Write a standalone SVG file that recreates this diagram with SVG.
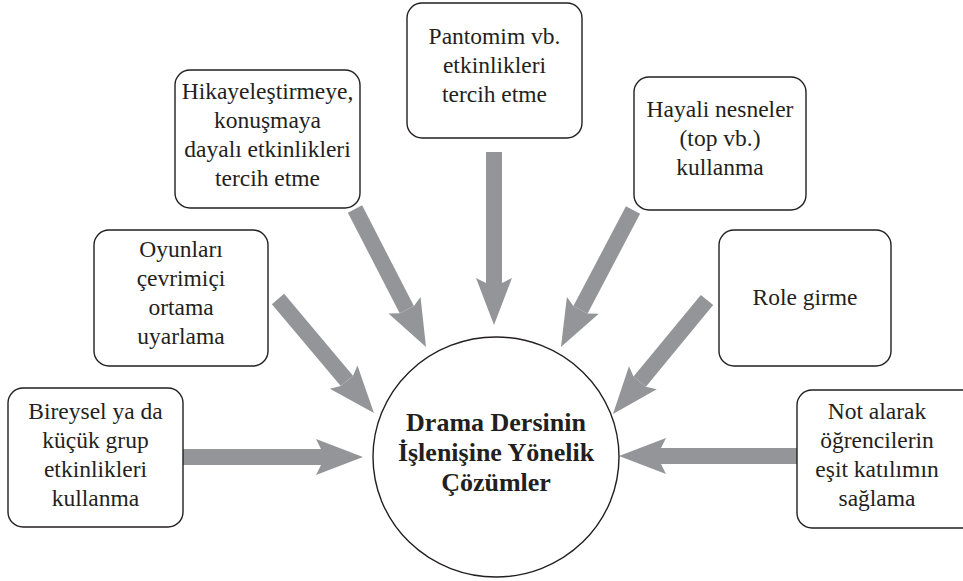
<svg xmlns="http://www.w3.org/2000/svg" width="963" height="581" viewBox="0 0 963 581">
<style>
.box{fill:#fff;stroke:#231f20;stroke-width:1.4}
.t{font-family:"Liberation Serif","Times New Roman",serif;font-size:23.5px;fill:#231f20;text-anchor:middle}
.b{font-family:"Liberation Serif","Times New Roman",serif;font-size:26px;font-weight:bold;fill:#231f20;text-anchor:middle}
.sh{stroke:#939598;stroke-width:16;fill:none}
</style>
<defs>
<marker id="ah" markerUnits="userSpaceOnUse" orient="auto" refX="0" refY="0" markerWidth="60" markerHeight="60" viewBox="-10 -25 60 50" overflow="visible">
<path d="M-5,-18 L42,0 L-5,18 L0,8 L0,-8 Z" fill="#939598"/>
</marker>
</defs>
<rect width="963" height="581" fill="#fff"/>
<g id="connectors">
<line class="sh" x1="183" y1="457" x2="321" y2="457" marker-end="url(#ah)"/>
<line class="sh" x1="797" y1="456" x2="661" y2="456" marker-end="url(#ah)"/>
<line class="sh" x1="494" y1="152" x2="494" y2="283" marker-end="url(#ah)"/>
<line class="sh" x1="355" y1="209" x2="406.8" y2="309.7" marker-end="url(#ah)"/>
<line class="sh" x1="633" y1="210" x2="580.5" y2="309.8" marker-end="url(#ah)"/>
<line class="sh" x1="278" y1="299" x2="346.9" y2="380.9" marker-end="url(#ah)"/>
<line class="sh" x1="707" y1="300" x2="639.7" y2="381.6" marker-end="url(#ah)"/>
</g>
<g id="center">
<ellipse cx="496" cy="457" rx="123" ry="120" class="box"/>
<text class="b" x="496" y="431">Drama Dersinin</text>
<text class="b" x="496" y="461">İşlenişine Yönelik</text>
<text class="b" x="496" y="491">Çözümler</text>
</g>
<g id="n1">
<rect class="box" x="8" y="388" width="175" height="139" rx="15"/>
<text class="t" x="95.5" y="419">Bireysel ya da</text>
<text class="t" x="95.5" y="448">küçük grup</text>
<text class="t" x="95.5" y="477">etkinlikleri</text>
<text class="t" x="95.5" y="506">kullanma</text>
</g>
<g id="n2">
<rect class="box" x="94" y="230" width="174" height="136" rx="15"/>
<text class="t" x="181" y="257">Oyunları</text>
<text class="t" x="181" y="286">çevrimiçi</text>
<text class="t" x="181" y="315">ortama</text>
<text class="t" x="181" y="344">uyarlama</text>
</g>
<g id="n3">
<rect class="box" x="175" y="70" width="185" height="138" rx="15"/>
<text class="t" x="267.5" y="99">Hikayeleştirmeye,</text>
<text class="t" x="267.5" y="128">konuşmaya</text>
<text class="t" x="267.5" y="157">dayalı etkinlikleri</text>
<text class="t" x="267.5" y="186">tercih etme</text>
</g>
<g id="n4">
<rect class="box" x="407" y="3" width="175" height="135" rx="15"/>
<text class="t" x="494.5" y="44">Pantomim vb.</text>
<text class="t" x="494.5" y="73">etkinlikleri</text>
<text class="t" x="494.5" y="102">tercih etme</text>
</g>
<g id="n5">
<rect class="box" x="634" y="77" width="172" height="133" rx="15"/>
<text class="t" x="720" y="117">Hayali nesneler</text>
<text class="t" x="720" y="146">(top vb.)</text>
<text class="t" x="720" y="175">kullanma</text>
</g>
<g id="n6">
<rect class="box" x="719" y="230" width="172" height="136" rx="15"/>
<text class="t" x="805" y="305">Role girme</text>
</g>
<g id="n7">
<rect class="box" x="797" y="390" width="190" height="138" rx="15"/>
<text class="t" x="877" y="419">Not alarak</text>
<text class="t" x="877" y="448">öğrencilerin</text>
<text class="t" x="877" y="477">eşit katılımın</text>
<text class="t" x="877" y="506">sağlama</text>
</g>
</svg>
